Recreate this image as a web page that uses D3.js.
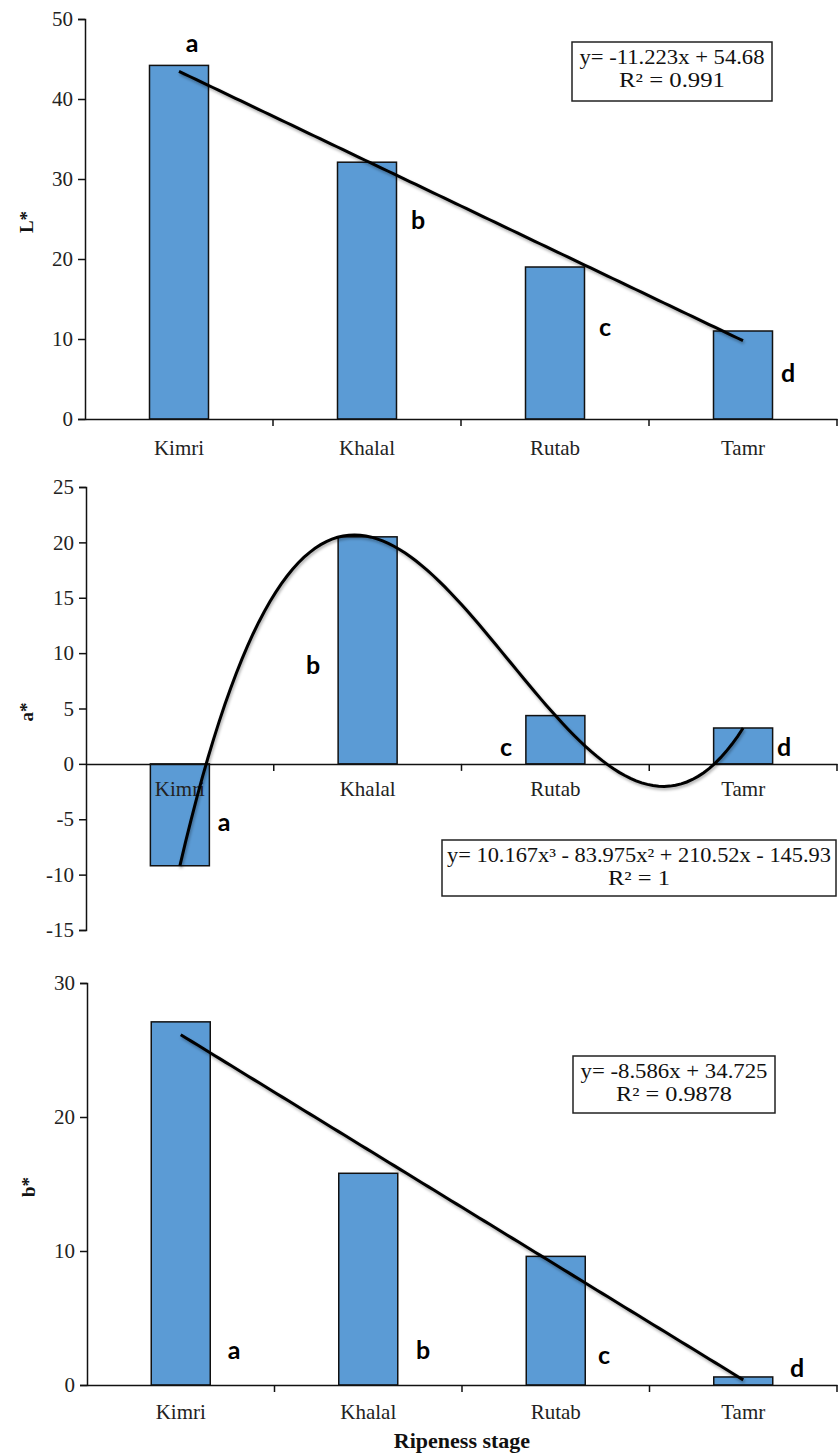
<!DOCTYPE html>
<html lang="en">
<head>
<meta charset="UTF-8">
<title>Colour of dates by ripeness stage</title>
<script src="https://cdnjs.cloudflare.com/ajax/libs/d3/7.8.5/d3.min.js"></script>
<style>
  body { margin: 0; background: #fff; }
  .tick text { font-family: "Liberation Serif", "Times New Roman", serif; font-size: 21px; fill: #222; }
  .letter { font-family: Lato, "Open Sans", sans-serif; font-weight: bold; font-size: 25px; fill: #000; }
  .eq { font-family: "Liberation Serif", "Times New Roman", serif; font-size: 20px; fill: #111; }
  .ylab { font-family: "Liberation Serif", "Times New Roman", serif; font-weight: bold; font-size: 19px; fill: #111; }
  .xlab { font-family: "Liberation Serif", "Times New Roman", serif; font-weight: bold; font-size: 22px; fill: #111; }
</style>
</head>
<body>
<script>
// categories
var stages = ["Kimri", "Khalal", "Rutab", "Tamr"];

// series values
var Lvals = [44.2, 32.1, 19.0, 11.0];
var Avals = [-9.2, 20.5, 4.36, 3.24];
var Bvals = [27.1, 15.8, 9.6, 0.6];

// significance letters
var Lletters = ["a", "b", "c", "d"];
var Aletters = ["a", "b", "c", "d"];
var Bletters = ["a", "b", "c", "d"];

// trendline coefficients (highest power first) as printed on the chart
var Lcoef = [-11.223, 54.68];
var Acoef = [10.167, -83.975, 210.52, -145.93];
var Bcoef = [-8.586, 34.725];

// equation labels
var Leq = ["y= -11.223x + 54.68", "R² = 0.991"];
var Aeq = ["y= 10.167x³ - 83.975x² + 210.52x - 145.93", "R² = 1"];
var Beq = ["y= -8.586x + 34.725", "R² = 0.9878"];

// y tick values
var Lticks = [0, 10, 20, 30, 40, 50];
var Aticks = [-15, -10, -5, 0, 5, 10, 15, 20, 25];
var Bticks = [0, 10, 20, 30];

var svg = d3.select("body").append("svg").attr("width", 838).attr("height", 1455);

var defs = svg.append("defs");
var f = defs.append("filter").attr("id", "shadow").attr("x", "-10%").attr("y", "-10%").attr("width", "120%").attr("height", "130%");
f.append("feDropShadow").attr("dx", 1).attr("dy", 2).attr("stdDeviation", 1.5).attr("flood-color", "#000").attr("flood-opacity", 0.35);

function poly(c, x) {
    var v = 0;
    c.forEach(function (k) { v = v * x + k; });
    return v;
}

function panel(o) {
    var g = svg.append("g");
    var x = d3.scaleBand().domain(stages).range([o.left, 837]).paddingInner(0).paddingOuter(0);
    var xc = d3.scaleLinear().domain([1, 4]).range([x(stages[0]) + x.bandwidth() / 2, x(stages[3]) + x.bandwidth() / 2]);
    var y = d3.scaleLinear().domain(o.domain).range([o.bottom, o.top]);
    var bw = 59;

    // bars
    g.selectAll("rect").data(o.vals).enter().append("rect")
        .attr("x", function (d, i) { return x(stages[i]) + x.bandwidth() / 2 - bw / 2; })
        .attr("y", function (d) { return y(Math.max(0, d)); })
        .attr("width", bw)
        .attr("height", function (d) { return Math.abs(y(d) - y(0)); })
        .attr("fill", "#5B9BD5")
        .attr("stroke", "#111")
        .attr("stroke-width", 1.5);

    // y axis
    var ya = g.append("g").attr("transform", "translate(" + o.left + ",0)")
        .call(d3.axisLeft(y).tickValues(o.ticks).tickSize(7).tickPadding(5)
            .tickFormat(function (d) { return String(d); }));
    ya.select(".domain").attr("stroke", "#111").attr("stroke-width", 1.5);
    ya.selectAll(".tick line").attr("stroke", "#111").attr("stroke-width", 1.5);

    // x axis at zero
    var xa = g.append("g").attr("transform", "translate(0," + y(0) + ")")
        .call(d3.axisBottom(x).tickSize(0).tickPadding(o.labPad));
    xa.select(".domain").attr("stroke", "#111").attr("stroke-width", 1.5);
    g.append("g").selectAll("line").data(stages).enter().append("line")
        .attr("x1", function (d) { return x(d) + x.bandwidth(); })
        .attr("x2", function (d) { return x(d) + x.bandwidth(); })
        .attr("y1", y(0)).attr("y2", y(0) + 7)
        .attr("stroke", "#111").attr("stroke-width", 1.5);

    // trendline
    var pts = d3.range(0, 101).map(function (i) { var t = 1 + 3 * i / 100; return [t, poly(o.coef, t)]; });
    g.append("path").datum(pts)
        .attr("d", d3.line().x(function (d) { return xc(d[0]); }).y(function (d) { return y(d[1]); }))
        .attr("fill", "none").attr("stroke", "#000").attr("stroke-width", 3)
        .attr("filter", "url(#shadow)");

    // letters
    g.selectAll(".letter").data(o.letters).enter().append("text")
        .attr("class", "letter")
        .attr("text-anchor", "middle")
        .attr("x", function (d, i) { return o.letterPos[i][0]; })
        .attr("y", function (d, i) { return o.letterPos[i][1]; })
        .attr("dy", "0.35em")
        .text(function (d) { return d; });

    // equation box
    var b = o.box;
    g.append("rect").attr("x", b[0]).attr("y", b[1]).attr("width", b[2]).attr("height", b[3])
        .attr("fill", "#fff").attr("stroke", "#222").attr("stroke-width", 1.5);
    g.selectAll(".eq").data(o.eq).enter().append("text")
        .attr("class", "eq")
        .attr("text-anchor", "middle")
        .attr("x", b[0] + b[2] / 2)
        .attr("y", function (d, i) { return b[1] + 22 + i * 23; })
        .each(function (d, i) {
            d3.select(this).attr("textLength", o.eqLen[i]).attr("lengthAdjust", "spacingAndGlyphs");
        })
        .text(function (d) { return d; });

    // y label
    g.append("text").attr("class", "ylab")
        .attr("transform", "translate(" + o.ylab[0] + "," + o.ylab[1] + ") rotate(-90)")
        .attr("text-anchor", "middle")
        .text(o.ylabel);
}

panel({
    vals: Lvals, coef: Lcoef, letters: Lletters, eq: Leq, ticks: Lticks,
    domain: [0, 50], top: 19, bottom: 419, left: 85, labPad: 21,
    letterPos: [[192, 43], [418, 220], [605, 327], [788, 373]],
    box: [572, 42, 200, 59], eqLen: [185, 106], ylabel: "L*", ylab: [33, 222]
});

panel({
    vals: Avals, coef: Acoef, letters: Aletters, eq: Aeq, ticks: Aticks,
    domain: [-15, 25], top: 487, bottom: 930, left: 86, labPad: 17,
    letterPos: [[224, 822], [313, 665], [506, 747], [784, 747]],
    box: [442, 840, 394, 56], eqLen: [384, 62], ylabel: "a*", ylab: [33, 712]
});

panel({
    vals: Bvals, coef: Bcoef, letters: Bletters, eq: Beq, ticks: Bticks,
    domain: [0, 30], top: 983, bottom: 1385, left: 87, labPad: 19,
    letterPos: [[234, 1350], [423, 1350], [604, 1355], [797, 1368]],
    box: [573, 1056, 202, 57], eqLen: [187, 116], ylabel: "b*", ylab: [35, 1187]
});

svg.append("text").attr("class", "xlab")
    .attr("x", 462).attr("y", 1448)
    .attr("text-anchor", "middle")
    .text("Ripeness stage");
</script>
</body>
</html>
